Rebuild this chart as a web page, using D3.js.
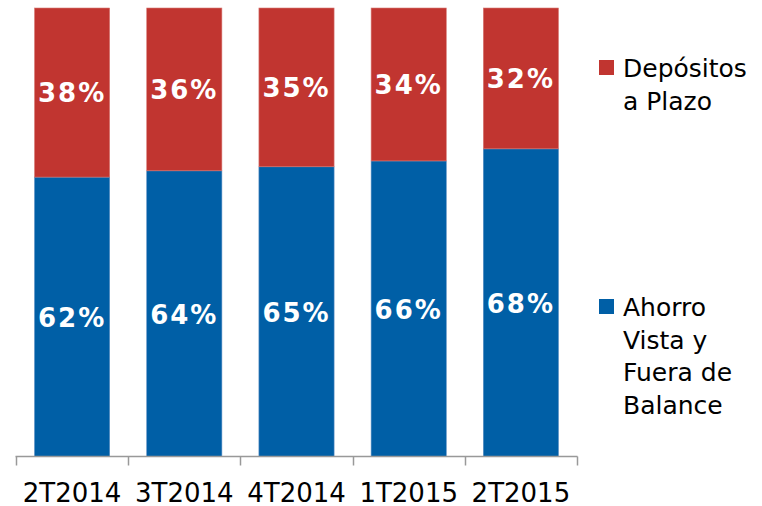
<!DOCTYPE html>
<html><head><meta charset="utf-8">
<script src="https://cdn.jsdelivr.net/npm/d3@7"></script>
<style>body{margin:0;background:#fff}svg{display:block}</style>
</head><body>
<svg id="c" width="762" height="506"></svg>
<script>
const categories = ["2T2014","3T2014","4T2014","1T2015","2T2015"];
const ahorroValues = [62.3, 63.7, 64.6, 65.9, 68.6];
const depositosValues = [37.7, 36.3, 35.4, 34.1, 31.4];
const ahorroLabels = ["62%","64%","65%","66%","68%"];
const depositosLabels = ["38%","36%","35%","34%","32%"];
const seriesNames = [["Depósitos","a Plazo"],["Ahorro","Vista y","Fuera de","Balance"]];
const colors = {dep:"#C13530", aho:"#005FA6"};

const svg = d3.select("#c");
const font = "'DejaVu Sans', Verdana, sans-serif";
const x = d3.scaleBand().domain(categories).range([16, 577]).paddingInner(0.33).paddingOuter(0.165);
const y = d3.scaleLinear().domain([0,100]).range([456.5, 8]);

const data = categories.map((c,i)=>({c, a:ahorroValues[i], d:depositosValues[i], al:ahorroLabels[i], dl:depositosLabels[i]}));

const g = svg.append("g");
g.selectAll("rect.a").data(data).join("rect").attr("class","a")
  .attr("x",d=>x(d.c)).attr("width",x.bandwidth())
  .attr("y",d=>y(d.a)).attr("height",d=>y(0)-y(d.a))
  .attr("fill",colors.aho).attr("stroke","#5b8fc4").attr("stroke-width",0.6);
g.selectAll("rect.d").data(data).join("rect").attr("class","d")
  .attr("x",d=>x(d.c)).attr("width",x.bandwidth())
  .attr("y",d=>y(d.a+d.d)).attr("height",d=>y(d.a)-y(d.a+d.d))
  .attr("fill",colors.dep).attr("stroke","#d77a76").attr("stroke-width",0.6);

g.selectAll("text.al").data(data).join("text").attr("class","al")
  .attr("x",d=>x(d.c)+x.bandwidth()/2).attr("y",d=>y(d.a/2))
  .attr("dy","0.38em").attr("text-anchor","middle")
  .attr("font-family",font).attr("font-weight","bold").attr("font-size",26)
  .attr("letter-spacing",2).attr("fill","#fff").text(d=>d.al);
g.selectAll("text.dl").data(data).join("text").attr("class","dl")
  .attr("x",d=>x(d.c)+x.bandwidth()/2).attr("y",d=>y(d.a+d.d/2))
  .attr("dy","0.38em").attr("text-anchor","middle")
  .attr("font-family",font).attr("font-weight","bold").attr("font-size",26)
  .attr("letter-spacing",2).attr("fill","#fff").text(d=>d.dl);

const axis = d3.axisBottom(x).tickSize(0).tickPadding(0);
const ax = svg.append("g").attr("transform","translate(0,456.5)").call(axis);
ax.select(".domain").attr("stroke","#999").attr("stroke-width",1.5).attr("d","M15.5,0H577.5");
ax.selectAll("text").attr("font-family",font).attr("font-size",26).attr("fill","#000")
  .attr("y",45).attr("dy",0);
const step = x.step();
const tickPos = d3.range(categories.length+1).map(i=>16 + i*step);
ax.selectAll("line.bt").data(tickPos).join("line").attr("class","bt")
  .attr("x1",d=>Math.round(d)+0.5).attr("x2",d=>Math.round(d)+0.5).attr("y1",0).attr("y2",9)
  .attr("stroke","#999").attr("stroke-width",1.5);

const leg = svg.append("g");
const legItems = [{names:seriesNames[0], color:colors.dep, y:60},{names:seriesNames[1], color:colors.aho, y:299}];
legItems.forEach(it=>{
  leg.append("rect").attr("x",599).attr("y",it.y).attr("width",15).attr("height",15).attr("fill",it.color);
  const t = leg.append("text").attr("font-family",font).attr("font-size",25).attr("fill","#000");
  it.names.forEach((n,i)=>{
    t.append("tspan").attr("x",623).attr("y",it.y+17+i*32.5).text(n);
  });
});
</script>
</body></html>
